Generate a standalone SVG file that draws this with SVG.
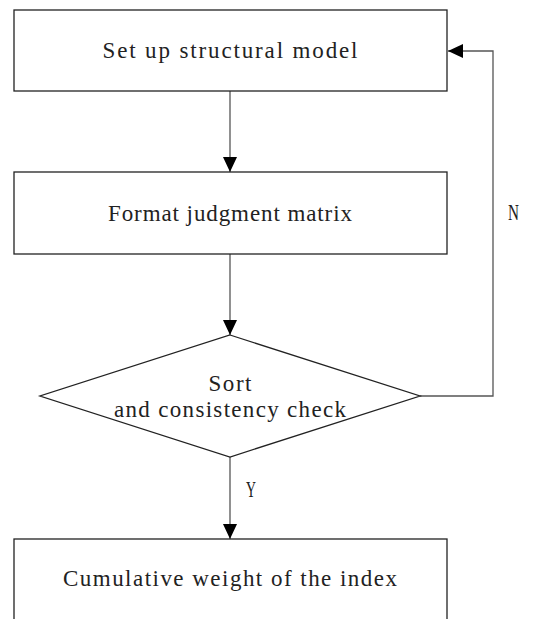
<svg xmlns="http://www.w3.org/2000/svg" width="540" height="619" viewBox="0 0 540 619">
  <style>
    .box { fill: #ffffff; stroke: #222222; stroke-width: 1.3; }
    .link { fill: none; stroke: #555555; stroke-width: 1.3; }
    .label { font-family: "Liberation Serif", "Times New Roman", serif; font-size: 23px; fill: #222222; text-anchor: middle; }
    .tag { font-family: "Liberation Serif", "Times New Roman", serif; font-size: 23px; fill: #222222; }
  </style>
  <defs>
    <marker id="arrow" markerWidth="15" markerHeight="14" refX="15" refY="7" orient="auto" markerUnits="userSpaceOnUse">
      <path d="M0,0 L15,7 L0,14 Z" fill="#000000"/>
    </marker>
  </defs>
  <rect width="540" height="619" fill="#ffffff"/>

  <g id="connectors">
    <line class="link" x1="230" y1="91" x2="230" y2="172" marker-end="url(#arrow)"/>
    <line class="link" x1="230" y1="254" x2="230" y2="335" marker-end="url(#arrow)"/>
    <line class="link" x1="230" y1="457" x2="230" y2="539" marker-end="url(#arrow)"/>
    <polyline class="link" points="420,396 493,396 493,51 448,51" marker-end="url(#arrow)"/>
    <text class="tag" x="246" y="497" textLength="10" lengthAdjust="spacingAndGlyphs">Y</text>
    <text class="tag" x="508" y="220" textLength="11" lengthAdjust="spacingAndGlyphs">N</text>
  </g>

  <g id="setup-model">
    <rect class="box" x="14" y="10" width="433" height="81"/>
    <text class="label" x="230" y="58" textLength="255" lengthAdjust="spacing">Set up structural model</text>
  </g>

  <g id="judgment-matrix">
    <rect class="box" x="14" y="172" width="433" height="82"/>
    <text class="label" x="230" y="221" textLength="244" lengthAdjust="spacing">Format judgment matrix</text>
  </g>

  <g id="consistency-check">
    <polygon class="box" points="230,335 420,396 230,457 40,396"/>
    <text class="label" x="230" y="391" textLength="43" lengthAdjust="spacing">Sort</text>
    <text class="label" x="230" y="417" textLength="232" lengthAdjust="spacing">and consistency check</text>
  </g>

  <g id="cumulative-weight">
    <rect class="box" x="14" y="539" width="433" height="100"/>
    <text class="label" x="230" y="586" textLength="334" lengthAdjust="spacing">Cumulative weight of the index</text>
  </g>
</svg>
